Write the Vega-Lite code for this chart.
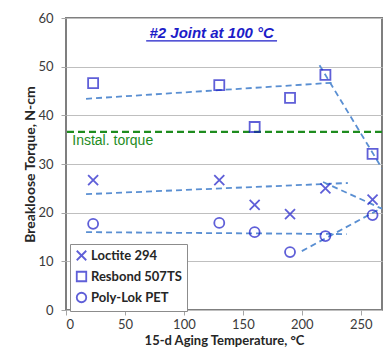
{
  "$schema": "https://vega.github.io/schema/vega-lite/v6.json",
  "autosize": "none",
  "width": 316,
  "height": 292,
  "padding": {"left": 66, "top": 18, "right": 2, "bottom": 37},
  "background": "white",
  "config": {
    "view": {"stroke": "#7f7f7f", "strokeWidth": 2},
    "axis": {"labelFont": "Lato", "titleFont": "Lato", "labelColor": "#3a3a3a", "titleColor": "#262626", "tickColor": "#a6a6a6", "domain": false}
  },
  "datasets": {
    "pts": [
      {"product": "Loctite 294", "temp": 23, "torque": 26.7},
      {"product": "Loctite 294", "temp": 130, "torque": 26.7},
      {"product": "Loctite 294", "temp": 160, "torque": 21.6},
      {"product": "Loctite 294", "temp": 190, "torque": 19.7},
      {"product": "Loctite 294", "temp": 220, "torque": 25.0},
      {"product": "Loctite 294", "temp": 260, "torque": 22.7},
      {"product": "Resbond 507TS", "temp": 23, "torque": 46.6},
      {"product": "Resbond 507TS", "temp": 130, "torque": 46.2},
      {"product": "Resbond 507TS", "temp": 160, "torque": 37.6},
      {"product": "Resbond 507TS", "temp": 190, "torque": 43.6},
      {"product": "Resbond 507TS", "temp": 220, "torque": 48.3},
      {"product": "Resbond 507TS", "temp": 260, "torque": 32.1},
      {"product": "Poly-Lok PET", "temp": 23, "torque": 17.7},
      {"product": "Poly-Lok PET", "temp": 130, "torque": 17.9},
      {"product": "Poly-Lok PET", "temp": 160, "torque": 16.0},
      {"product": "Poly-Lok PET", "temp": 190, "torque": 11.9},
      {"product": "Poly-Lok PET", "temp": 220, "torque": 15.2},
      {"product": "Poly-Lok PET", "temp": 260, "torque": 19.5}
    ],
    "trends": [
      {"seg": "R1", "temp": 17, "torque": 43.4},
      {"seg": "R1", "temp": 226, "torque": 46.7},
      {"seg": "R2", "temp": 215, "torque": 50.3},
      {"seg": "R2", "temp": 268, "torque": 29.1},
      {"seg": "L1", "temp": 17, "torque": 23.8},
      {"seg": "L1", "temp": 239, "torque": 26.1},
      {"seg": "L2", "temp": 218, "torque": 26.3},
      {"seg": "L2", "temp": 268, "torque": 20.8},
      {"seg": "P1", "temp": 17, "torque": 16.0},
      {"seg": "P1", "temp": 238, "torque": 15.6},
      {"seg": "P2", "temp": 200, "torque": 12.1},
      {"seg": "P2", "temp": 268, "torque": 21.0}
    ],
    "notes": [{"install": 36.6, "label": "Instal. torque", "title": "#2 Joint at 100 °C"}]
  },
  "layer": [
    {
      "data": {"name": "trends"},
      "mark": {"type": "line", "color": "#5a8fd2", "strokeWidth": 1.8, "strokeDash": [6, 4], "clip": true},
      "encoding": {
        "x": {"field": "temp", "type": "quantitative", "scale": {"domain": [0, 268], "nice": false},
              "axis": {"values": [0, 50, 100, 150, 200, 250], "grid": false, "tickSize": 5, "labelPadding": 3, "labelFontSize": 13,
                       "title": "15-d Aging Temperature, °C", "titleFontSize": 13, "titleFontWeight": "bold",
                       "titleX": 158, "titleY": 30, "titleBaseline": "middle", "titleAnchor": "middle"}},
        "y": {"field": "torque", "type": "quantitative", "scale": {"domain": [0, 60], "nice": false},
              "axis": {"values": [0, 10, 20, 30, 40, 50, 60], "grid": true, "gridColor": "#bfbfbf", "tickSize": 5, "labelPadding": 8, "labelFontSize": 13,
                       "title": "Breakloose Torque, N-cm", "titleFontSize": 14, "titleFontWeight": "bold",
                       "titleX": -36, "titleY": 146, "titleAngle": -90, "titleAlign": "center", "titleBaseline": "middle"}},
        "detail": {"field": "seg"}
      }
    },
    {
      "data": {"name": "notes"},
      "mark": {"type": "rule", "color": "#1e8c1e", "strokeWidth": 2.2, "strokeDash": [7, 4]},
      "encoding": {"y": {"field": "install", "type": "quantitative"}}
    },
    {
      "data": {"name": "notes"},
      "mark": {"type": "text", "color": "#1e8c1e", "font": "Liberation Sans", "fontSize": 14, "align": "left", "baseline": "middle"},
      "encoding": {"x": {"datum": 5.3, "type": "quantitative"}, "y": {"datum": 34.7, "type": "quantitative"}, "text": {"field": "label"}}
    },
    {
      "data": {"name": "notes"},
      "mark": {"type": "text", "color": "#1c1cc8", "font": "Liberation Sans", "fontSize": 15, "fontWeight": "bold", "fontStyle": "italic", "align": "center", "baseline": "middle"},
      "encoding": {"x": {"datum": 123.5, "type": "quantitative"}, "y": {"datum": 56.9, "type": "quantitative"}, "text": {"field": "title"}}
    },
    {
      "data": {"name": "notes"},
      "mark": {"type": "rule", "color": "#1c1cc8", "strokeWidth": 1.2},
      "encoding": {"x": {"datum": 68, "type": "quantitative"}, "x2": {"datum": 179}, "y": {"datum": 55.3, "type": "quantitative"}}
    },
    {
      "data": {"name": "pts"},
      "mark": {"type": "point", "filled": false, "strokeWidth": 1.8, "color": "#1c1cc8", "size": 100},
      "encoding": {
        "x": {"field": "temp", "type": "quantitative"},
        "y": {"field": "torque", "type": "quantitative"},
        "shape": {"field": "product", "type": "nominal",
                  "scale": {"domain": ["Loctite 294", "Resbond 507TS", "Poly-Lok PET"], "range": ["M-1,-1L1,1M-1,1L1,-1", "square", "circle"]},
                  "legend": {"title": null, "orient": "none", "legendX": 4, "legendY": 226, "direction": "vertical",
                             "fillColor": "white", "strokeColor": "#8c8c8c", "padding": 5, "rowPadding": 4,
                             "labelFont": "Lato", "labelFontSize": 13, "labelFontWeight": "bold", "labelColor": "#262626", "labelOffset": 3,
                             "symbolSize": 90, "symbolStrokeWidth": 1.8, "symbolStrokeColor": "#1c1cc8", "symbolFillColor": "transparent"}}
      }
    }
  ]
}
